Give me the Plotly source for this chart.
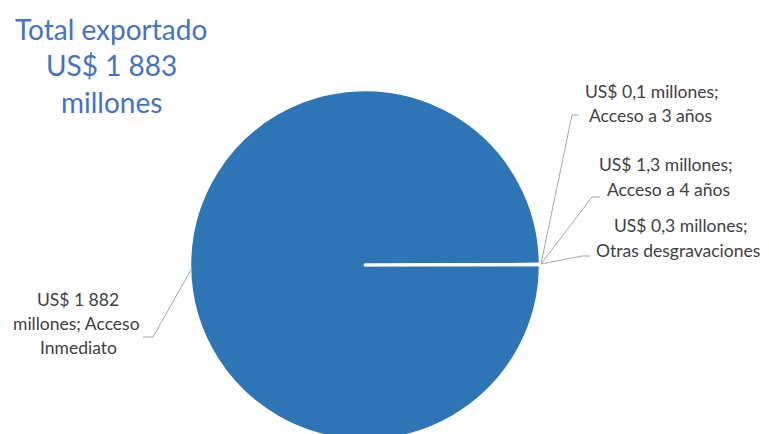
import plotly.graph_objects as go

# Data
categories = ["Acceso Inmediato", "Acceso a 3 años", "Acceso a 4 años", "Otras desgravaciones"]
values = [1882, 0.1, 1.3, 0.3]
value_labels = ["US$ 1 882", "US$ 0,1", "US$ 1,3", "US$ 0,3"]
total_label = "US$ 1 883"

W, H = 769, 434
OFF = 8  # page body margin offset
FONT = "Lato"
LABEL_COLOR = "#404040"

# Pie placement in screen pixels
cx, cy, r = 365, 265, 175

def px(x):
    return (x - OFF) / W

def py(y):
    return 1 - (y - OFF) / H

fig = go.Figure(go.Pie(
    labels=categories,
    values=values,
    sort=False,
    direction="clockwise",
    rotation=90,
    textinfo="none",
    hoverinfo="label+value",
    marker=dict(colors=["#2E75B6"] * 4, line=dict(color="white", width=2.5)),
    domain=dict(x=[px(cx - r), px(cx + r)], y=[py(cy + r), py(cy - r)]),
    showlegend=False,
))

annotations = []

def add_lines(lines, xcs, ys, size, color):
    for t, xc, y in zip(lines, xcs, ys):
        annotations.append(dict(
            text=t, x=px(xc), y=py(y), xref="paper", yref="paper",
            xanchor="center", yanchor="middle", showarrow=False,
            font=dict(family=FONT, size=size, color=color),
        ))

# Title
add_lines(["Total exportado", total_label, "millones"], [111, 111, 111], [29, 65, 102], 28, "#4472C4")

# Labels
LS = 17.5
add_lines([value_labels[1] + " millones;", categories[1]], [652, 650], [91, 115], LS, LABEL_COLOR)
add_lines([value_labels[2] + " millones;", categories[2]], [666, 668], [165, 189], LS, LABEL_COLOR)
add_lines([value_labels[3] + " millones;", categories[3]], [681, 678], [225, 250], LS, LABEL_COLOR)
add_lines([value_labels[0], "millones; Acceso", "Inmediato"], [78, 76, 78], [299, 323, 347], LS, LABEL_COLOR)

# Leader lines
shapes = []
def leader(points):
    path = "M " + " L ".join(f"{px(x)},{py(y)}" for x, y in points)
    shapes.append(dict(type="path", path=path, xref="paper", yref="paper",
                       line=dict(color="#A6A6A6", width=1)))

edge_r = (cx + r + 1, cy - 1)
leader([edge_r, (572, 115), (579, 115)])
leader([edge_r, (592, 197), (600, 197)])
leader([edge_r, (582, 256), (590, 256)])
leader([(cx - r + 2, cy + 3), (153, 337), (143, 337)])

fig.update_layout(
    width=W, height=H,
    margin=dict(l=0, r=0, t=0, b=0),
    paper_bgcolor="white",
    plot_bgcolor="white",
    annotations=annotations,
    shapes=shapes,
)

fig.write_html("out.html")
